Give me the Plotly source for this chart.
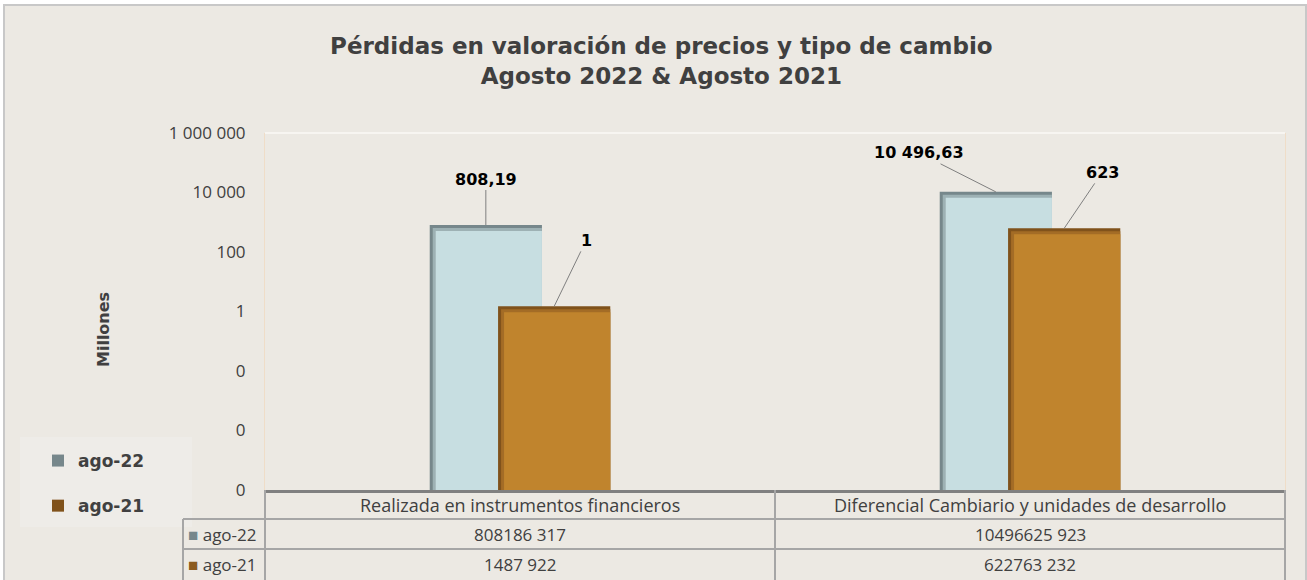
import math
import plotly.graph_objects as go

# ---------------- data ----------------
categories = ["Realizada en instrumentos financieros",
              "Diferencial Cambiario y unidades de desarrollo"]
series_names = ["ago-22", "ago-21"]
ago22_values = [808186317, 10496625923]   # units
ago21_values = [1487922, 622763232]       # units
label_decimals = [2, 0]                   # decimals of the data labels per series
y_tickvals = [1e-6, 1e-4, 1e-2, 1, 100, 1e4, 1e6]
y_ticktext = ["0", "0", "0", "1", "100", "10 000", "1 000 000"]
title_lines = ["Pérdidas en valoración de precios y tipo de cambio",
               "Agosto 2022 & Agosto 2021"]
y_title = "Millones"

# ---------------- helpers ----------------
def millions(vals):
    return [v / 1e6 for v in vals]

def fmt_label(v, dec):
    s = f"{v:,.{dec}f}"
    return s.replace(",", " ").replace(".", ",")

def fmt_table(v):
    s = str(int(v))
    return s[:-3] + " " + s[-3:]

BG = "#ECE9E3"
TXT = "#404040"
GRID = "#A6A6A6"
SANS = "Open Sans"

# plot area geometry (pixels) used for styling conversions
PX_PER_CAT = 510.0
PX_PER_DECADE = 357.0 / 12.0

BAR_W = 0.22
offsets = [-0.177, -0.043]
styles = [
    dict(edge="#76878B", mid="#9DB1B4", fill="#C7DEE1"),
    dict(edge="#80521B", mid="#A36C26", fill="#C0842D"),
]

fig = go.Figure()
data = [millions(ago22_values), millions(ago21_values)]

for i, (name, vals) in enumerate(zip(series_names, data)):
    st = styles[i]
    layers = [("edge", 0, 0), ("mid", 3, 3), ("fill", 6, 6)]
    for key, dx_px, dy_px in layers:
        d = dx_px / PX_PER_CAT
        k = 10 ** (-dy_px / PX_PER_DECADE)
        fig.add_trace(go.Bar(
            x=[0, 1],
            y=[v * k for v in vals],
            name=name,
            legendgroup=name,
            showlegend=(key == "edge"),
            width=BAR_W - d,
            offset=offsets[i] + d,
            marker=dict(color=st[key], line=dict(width=0)),
            hoverinfo="skip" if key != "fill" else "y+name",
        ))

# data labels with leader lines
label_offsets = [[(0, -46), (-77, -39)], [(32, -66), (38, -56)]]
for i, vals in enumerate(data):
    for j, v in enumerate(vals):
        ax, ay = label_offsets[i][j]
        fig.add_annotation(
            x=j + offsets[i] + BAR_W / 2, y=math.log10(v),
            xref="x", yref="y",
            text="<b>" + fmt_label(v, label_decimals[i]) + "</b>",
            showarrow=True, arrowhead=0, arrowwidth=1, arrowcolor="#7F7F7F",
            ax=ax, ay=ay, font=dict(family="DejaVu Sans", size=16, color="#000000"),
        )

# ---------------- table below the plot ----------------
def py(p):  # pixel y -> paper y
    return (490 - p) / 357.0

def px(p):  # pixel x -> paper x
    return (p - 265) / 1020.0

shapes = []
# outer frame
shapes.append(dict(type="rect", xref="paper", yref="paper",
                   x0=px(4), x1=px(1306), y0=py(5), y1=py(600),
                   line=dict(color="#C8C8C8", width=2), fillcolor=BG, layer="below"))
# legend box
shapes.append(dict(type="rect", xref="paper", yref="paper",
                   x0=px(20), x1=px(192), y0=py(437), y1=py(527),
                   line=dict(width=0), fillcolor="#EEECE8", layer="below"))
# top border of plot area
shapes.append(dict(type="line", xref="paper", yref="paper",
                   x0=0, x1=1, y0=1, y1=1, line=dict(color="#F7F5F1", width=2)))
# horizontal table lines
for yy in (519, 549):
    shapes.append(dict(type="line", xref="paper", yref="paper",
                       x0=px(183), x1=1, y0=py(yy), y1=py(yy),
                       line=dict(color=GRID, width=2)))
# vertical table lines
for xx, ytop in ((183, 519), (265, 490), (775, 490), (1285, 490)):
    shapes.append(dict(type="line", xref="paper", yref="paper",
                       x0=px(xx), x1=px(xx), y0=py(ytop), y1=py(585),
                       line=dict(color=GRID, width=2)))
fig.update_layout(shapes=shapes)

# header row
for j, cat in enumerate(categories):
    fig.add_annotation(x=j, y=py(505), xref="x", yref="paper", text=cat,
                       xanchor="center", yanchor="middle",
                       showarrow=False, font=dict(family=SANS, size=18, color=TXT))
# value rows
row_y = [534, 564]
square_colors = ["#76878B", "#8A5B20"]
for i, (name, vals) in enumerate(zip(series_names, [ago22_values, ago21_values])):
    fig.add_annotation(x=px(186), y=py(row_y[i]), xref="paper", yref="paper",
                       xanchor="left", yanchor="middle",
                       text=f"<span style='color:{square_colors[i]}'>■</span> {name}",
                       showarrow=False, font=dict(family=SANS, size=17, color=TXT))
    for j, v in enumerate(vals):
        fig.add_annotation(x=j, y=py(row_y[i]), xref="x", yref="paper",
                           xanchor="center", yanchor="middle",
                           text=fmt_table(v), showarrow=False,
                           font=dict(family=SANS, size=17, color=TXT))

# y axis title
fig.add_annotation(x=px(103), y=py(330), xref="paper", yref="paper",
                   xanchor="center", yanchor="middle",
                   text=f"<b>{y_title}</b>", textangle=-90, showarrow=False,
                   font=dict(family="DejaVu Sans", size=16, color=TXT))

fig.update_layout(
    width=1307, height=580,
    margin=dict(l=265, r=22, t=133, b=90),
    paper_bgcolor="#FFFFFF", plot_bgcolor="rgba(0,0,0,0)",
    barmode="overlay",
    title=dict(text="<b>" + "<br>".join(title_lines) + "</b>",
               x=0.506, xref="container", xanchor="center",
               y=1 - 54 / 580, yref="container", yanchor="top",
               font=dict(family="DejaVu Sans", size=23, color=TXT)),
    showlegend=True,
    legend=dict(x=px(38), y=py(443), xanchor="left", yanchor="top",
                bgcolor="rgba(0,0,0,0)", tracegroupgap=20,
                font=dict(family="DejaVu Sans", size=17, color=TXT, weight="bold"),
                traceorder="grouped"),
    xaxis=dict(type="linear", range=[-0.5, 1.5], showticklabels=False,
               showgrid=False, zeroline=False, showline=True,
               linecolor="#808080", linewidth=3, fixedrange=True),
    yaxis=dict(type="log", range=[-6, 6], tickvals=y_tickvals, ticktext=y_ticktext,
               showgrid=False, zeroline=False, showline=True, mirror=True,
               linecolor="#EFDDC8", linewidth=1, ticks="",
               ticklabelstandoff=15,
               tickfont=dict(family=SANS, size=17, color=TXT)),
)

fig.write_html("out.html", config={"displayModeBar": False},
               post_script="document.body.style.margin='0';document.body.style.overflow='hidden';")
